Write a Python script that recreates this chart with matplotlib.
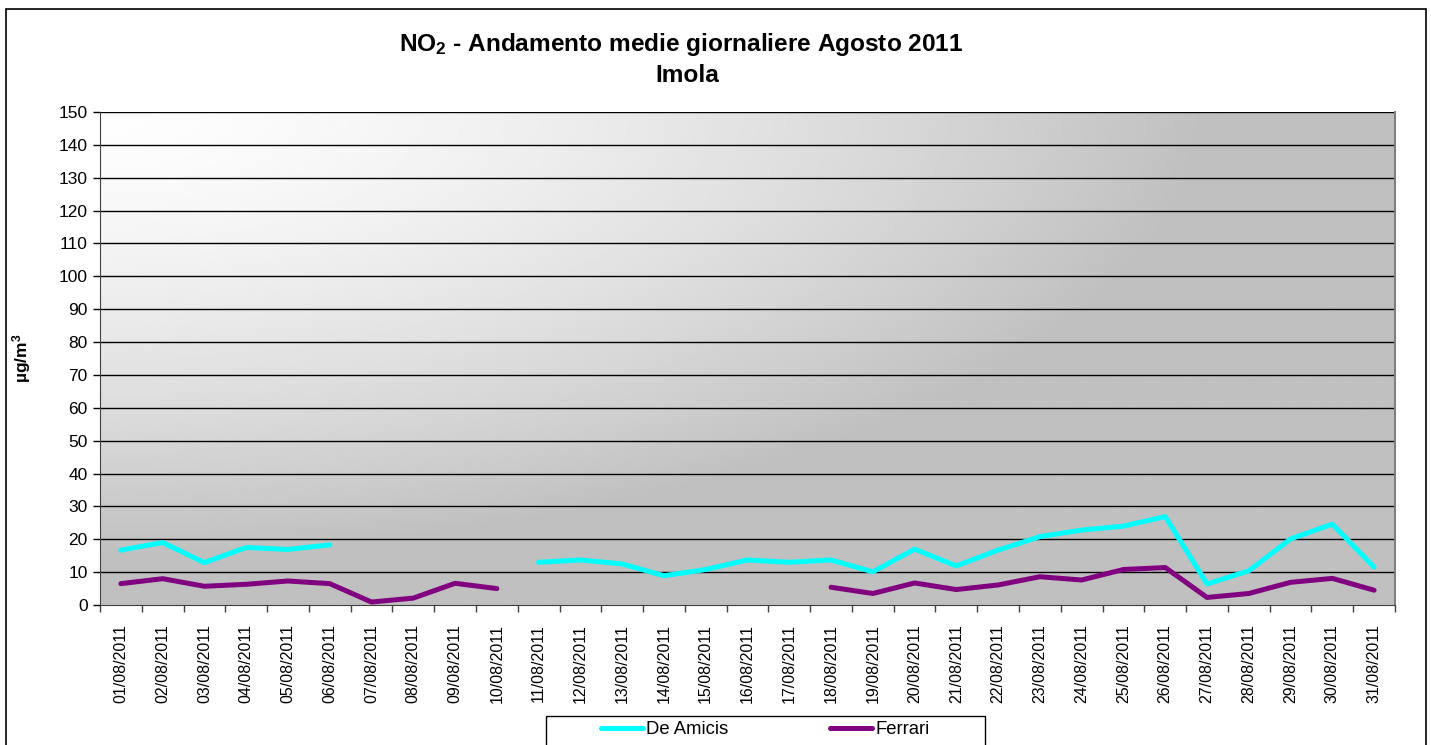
# -*- coding: utf-8 -*-
''' NO2 daily means, Imola, August 2011. '''

import numpy as np
import matplotlib
matplotlib.use('Agg')
import matplotlib.pyplot as plt
from matplotlib.patches import Rectangle

# data
days = ['%02d/08/2011' % d for d in range(1, 32)]
de_amicis = [16.7, 19.0, 12.9, 17.5, 16.9, 18.3, None, None, None, None,
             13.0, 13.7, 12.5, 8.9, 10.8, 13.7, 13.0, 13.7, 10.1, 17.0,
             11.9, 16.7, 20.8, 22.8, 24.0, 26.9, 6.4, 10.4, 20.1, 24.6, 11.5]
ferrari = [6.5, 8.0, 5.7, 6.3, 7.3, 6.5, 0.9, 2.1, 6.6, 5.0,
           None, None, None, None, None, None, None, 5.4, 3.5, 6.7,
           4.7, 6.1, 8.6, 7.6, 10.8, 11.4, 2.3, 3.5, 6.9, 8.1, 4.5]
y_ticks = list(range(0, 151, 10))


def to_arr(vals):
    return np.array([np.nan if v is None else v for v in vals], dtype=float)


def plot():
    plt.rcParams['font.family'] = ['Liberation Sans', 'DejaVu Sans']
    plt.rcParams['mathtext.fontset'] = 'custom'
    plt.rcParams['mathtext.rm'] = 'Liberation Sans'
    plt.rcParams['mathtext.bf'] = 'Liberation Sans:bold'
    plt.rcParams['mathtext.it'] = 'Liberation Sans:italic'

    fig = plt.figure(figsize=(14.31, 7.45), dpi=100)
    ax = fig.add_axes([100 / 1431, 1 - 605 / 745, 1295 / 1431, 493 / 745])

    # outer chart frame
    fig.patches.append(Rectangle((6 / 1431, -0.05), 1419.5 / 1431, 1 - 9 / 745 + 0.05,
                                 transform=fig.transFigure, fill=False,
                                 edgecolor='black', linewidth=1.2))
    # legend box
    fig.patches.append(Rectangle((546 / 1431, -0.05), 439 / 1431, 1 - 716 / 745 + 0.05,
                                 transform=fig.transFigure, fill=True,
                                 facecolor='white', edgecolor='black', linewidth=1.0))

    x = np.arange(len(days))

    # gradient background of plot area (row 0 = top), white top-left -> grey
    gx, gy = np.meshgrid(np.linspace(0, 1, 400), np.linspace(0, 1, 200))
    t = np.clip(np.sqrt((gx / 0.85) ** 2 + (gy / 0.9) ** 2), 0, 1)
    shade = 0.995 - 0.242 * t ** 1.5
    ax.imshow(shade, cmap='gray', vmin=0, vmax=1, aspect='auto',
              extent=(-0.5, len(days) - 0.5, 0, 150), origin='upper',
              zorder=0, interpolation='bilinear')
    ax.set_xlim(-0.5, len(days) - 0.5)
    ax.set_ylim(0, 150)

    for v in y_ticks[1:]:
        ax.axhline(v, color='black', linewidth=1.0, zorder=1)

    ax.plot(x, to_arr(de_amicis), color='#00ffff', linewidth=3.6,
            solid_capstyle='round', label='De Amicis', zorder=3)
    ax.plot(x, to_arr(ferrari), color='#800080', linewidth=3.6,
            solid_capstyle='round', label='Ferrari', zorder=3)

    ax.set_yticks(y_ticks)
    ax.set_xticks(x)
    ax.set_xticklabels(days, rotation=90)
    ax.set_xticks(np.arange(-0.5, len(days)), minor=True)
    ax.tick_params(axis='x', which='major', length=0, pad=14, labelsize=11.5)
    ax.tick_params(axis='x', which='minor', length=5, width=1, color='#404040')
    ax.tick_params(axis='y', length=5, width=1, pad=4, labelsize=12.5)

    ax.spines['top'].set_visible(False)
    ax.spines['left'].set_color('#404040')
    ax.spines['bottom'].set_color('#404040')
    ax.spines['right'].set_color('#808080')
    ax.spines['right'].set_linewidth(1.5)

    ax.set_ylabel(r'µg/m$\mathbf{^3}$', fontsize=12.5, fontweight='bold')
    ax.yaxis.set_label_coords(-0.052, 0.5)

    fig.text(681 / 1431, 1 - 45 / 745,
             r'NO$\mathbf{_2}$ - Andamento medie giornaliere Agosto 2011',
             ha='center', va='center', fontsize=17.6, fontweight='bold')
    fig.text(687 / 1431, 1 - 76 / 745, 'Imola', ha='center', va='center',
             fontsize=17.6, fontweight='bold')

    fig.legend(loc='center', bbox_to_anchor=(765 / 1431, 1 - 730 / 745),
               ncol=2, frameon=False, fontsize=13.3,
               handlelength=2.3, columnspacing=5.5, borderpad=0.0,
               handletextpad=0.15)

    fig.savefig('out.png', dpi=100)


if __name__ == '__main__':
    plot()
